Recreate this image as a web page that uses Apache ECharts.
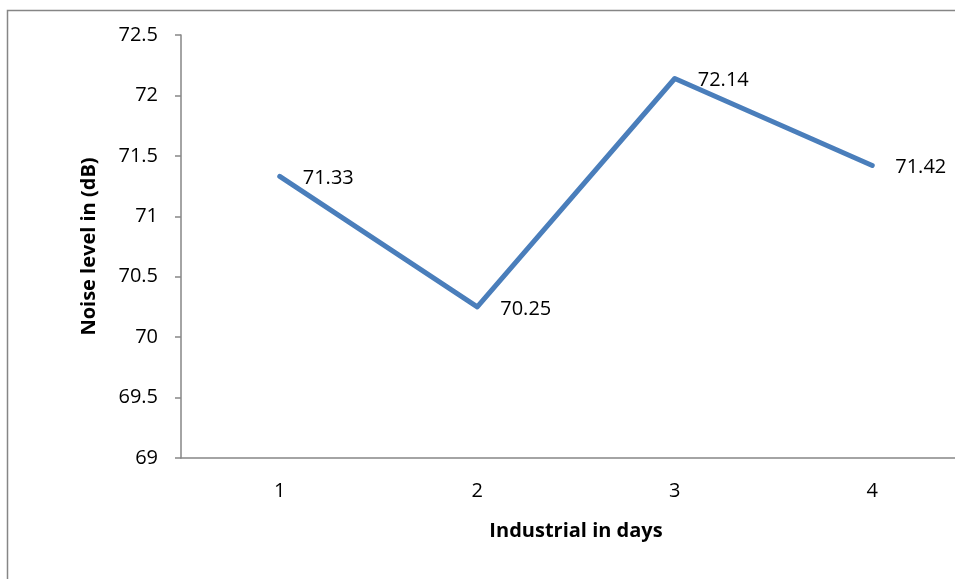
<!DOCTYPE html>
<html>
<head>
<meta charset="utf-8">
<script src="https://cdn.jsdelivr.net/npm/echarts@6/dist/echarts.min.js"></script>
<style>
  html, body { margin: 0; padding: 0; background: #fff; }
  #chart { width: 955px; height: 579px; }
</style>
</head>
<body>
<div id="chart"></div>
<script>
// chart data
var days = ['1', '2', '3', '4']
var noiseLevel = [71.33, 70.25, 72.14, 71.42]
var yMin = 69
var yMax = 72.5
var yStep = 0.5

var chart = echarts.init(document.getElementById('chart'))
var font = 'Open Sans'

chart.setOption({
  animation: false,
  backgroundColor: '#fff',
  graphic: [{
    type: 'rect',
    shape: { x: 7.5, y: 10.5, width: 1000, height: 1000 },
    style: { fill: 'none', stroke: '#868686', lineWidth: 1.5 },
    silent: true
  }],
  grid: {
    left: 181,
    right: -16,
    top: 35,
    bottom: 121,
    outerBoundsMode: 'none'
  },
  xAxis: {
    type: 'category',
    data: days,
    boundaryGap: true,
    name: 'Industrial in days',
    nameLocation: 'middle',
    nameGap: 63,
    nameTextStyle: { fontFamily: font, fontSize: 20, fontWeight: 'bold', color: '#000' },
    axisLine: { lineStyle: { color: '#868686', width: 1.5 } },
    axisTick: { show: false },
    axisLabel: { fontFamily: font, fontSize: 20, color: '#000', margin: 23 },
    splitLine: { show: false }
  },
  yAxis: {
    type: 'value',
    min: yMin,
    max: yMax,
    interval: yStep,
    name: 'Noise level in (dB)',
    nameLocation: 'middle',
    nameGap: 82,
    nameRotate: 90,
    nameTextStyle: { fontFamily: font, fontSize: 20, fontWeight: 'bold', color: '#000' },
    axisLine: { show: true, lineStyle: { color: '#868686', width: 1.5 } },
    axisTick: { show: true, length: 6, lineStyle: { color: '#868686', width: 1.5 } },
    axisLabel: { fontFamily: font, fontSize: 20, color: '#000', margin: 23 },
    splitLine: { show: false }
  },
  series: [{
    name: 'Noise level',
    type: 'line',
    data: noiseLevel,
    symbol: 'circle',
    symbolSize: 2,
    showSymbol: true,
    itemStyle: { color: '#4a7ebb' },
    lineStyle: { color: '#4a7ebb', width: 5, cap: 'round', join: 'round' },
    label: {
      show: true,
      position: 'right',
      distance: 22,
      offset: [0, 2],
      fontFamily: font,
      fontSize: 20,
      color: '#000'
    }
  }]
})
</script>
</body>
</html>
